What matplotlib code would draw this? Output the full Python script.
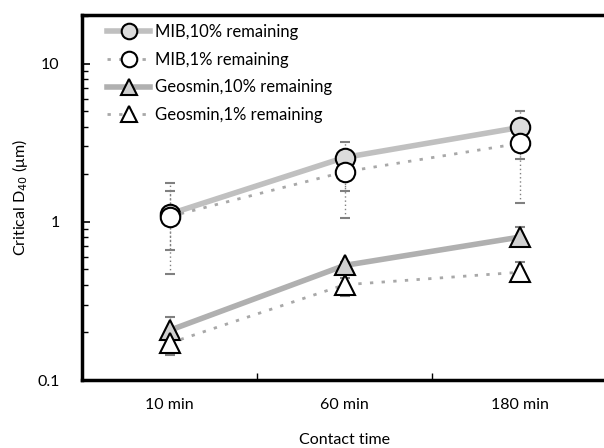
import matplotlib
matplotlib.use("Agg")
import matplotlib.pyplot as plt
from matplotlib.ticker import FixedLocator, LogLocator, NullFormatter, FixedFormatter
import numpy as np

plt.rcParams['font.family'] = ['Lato', 'DejaVu Sans']

times = ['10 min', '60 min', '180 min']

mib10 = [1.12, 2.55, 3.95]
mib10_lo = [0.66, 1.56, 2.49]
mib10_hi = [1.56, 3.2, 5.05]

mib1 = [1.08, 2.07, 3.13]
mib1_lo = [0.47, 1.05, 1.32]
mib1_hi = [1.75, 2.3, 3.4]

geo10 = [0.206, 0.53, 0.80]
geo10_lo = [0.19, 0.50, 0.70]
geo10_hi = [0.25, 0.56, 0.93]

geo1 = [0.171, 0.40, 0.48]
geo1_lo = [0.143, 0.34, 0.42]
geo1_hi = [0.19, 0.44, 0.56]

series = [
    ("MIB,10% remaining", mib10, mib10_lo, mib10_hi, 'o', '#dcdcdc', '-', 4.0, '#c0c0c0'),
    ("MIB,1% remaining", mib1, mib1_lo, mib1_hi, 'o', 'white', (0, (1.2, 3)), 2.0, '#a8a8a8'),
    ("Geosmin,10% remaining", geo10, geo10_lo, geo10_hi, '^', '#d0d0d0', '-', 4.0, '#b0b0b0'),
    ("Geosmin,1% remaining", geo1, geo1_lo, geo1_hi, '^', 'white', (0, (1.2, 3)), 2.0, '#a8a8a8'),
]

fig = plt.figure(figsize=(6.04, 4.48), dpi=100)
ax = fig.add_axes([82 / 604, 68 / 448, (607 - 82) / 604, 365 / 448])

x = np.arange(1, len(times) + 1)
for label, vals, lo, hi, mk, fc, ls, lw, lc in series:
    vals = np.array(vals)
    yerr = [vals - np.array(lo), np.array(hi) - vals]
    eb = ax.errorbar(x, vals, yerr=yerr, fmt='none', ecolor='#808080',
                     elinewidth=1.0, capsize=3.5, capthick=1.5, zorder=2)
    for c in eb[1]:
        c.set_color('#333333')
    for l in eb[2]:
        l.set_linestyle((0, (1, 2)))
    ms = 14 if mk == 'o' else 15
    ax.plot(x, vals, linestyle=ls, linewidth=lw, color=lc, marker=mk,
            markersize=ms, markerfacecolor=fc, markeredgecolor='black',
            markeredgewidth=1.5, label=label, zorder=3)

ax.set_yscale('log')
ax.set_ylim(0.1, 20.3)
ax.set_xlim(0.5, 3.5)

ax.yaxis.set_major_locator(FixedLocator([0.1, 1, 10]))
ax.yaxis.set_major_formatter(FixedFormatter(['0.1', '1', '10']))
ax.yaxis.set_minor_locator(LogLocator(base=10, subs=np.arange(2, 10)))
ax.yaxis.set_minor_formatter(NullFormatter())
ax.tick_params(axis='y', which='major', direction='in', length=6, width=1.2,
               labelsize=11.5, pad=16)
ax.tick_params(axis='y', which='minor', direction='in', length=4, width=1.0)

ax.set_xticks([1.5, 2.5])
ax.set_xticklabels([])
ax.set_xticks(x, minor=True)
ax.set_xticklabels(times, minor=True)
ax.tick_params(axis='x', which='major', direction='in', length=5, width=1.0)
ax.tick_params(axis='x', which='minor', length=0, labelsize=11.5, pad=13)

for s in ['left', 'bottom', 'top', 'right']:
    ax.spines[s].set_linewidth(2.5)

ax.set_ylabel('Critical D$_{40}$ (μm)', fontsize=11.5)
ax.yaxis.set_label_coords(-0.099, 0.5)
ax.set_xlabel('Contact time', fontsize=11.5, va='center')
ax.xaxis.set_label_coords(0.5, -0.165)

ax.legend(loc='upper left', bbox_to_anchor=(0.03, 1.0), frameon=False,
          fontsize=12, handlelength=2.6, handletextpad=0.3, labelspacing=0.7,
          markerscale=0.8, borderaxespad=0.15)

fig.savefig('out.png', dpi=100)
